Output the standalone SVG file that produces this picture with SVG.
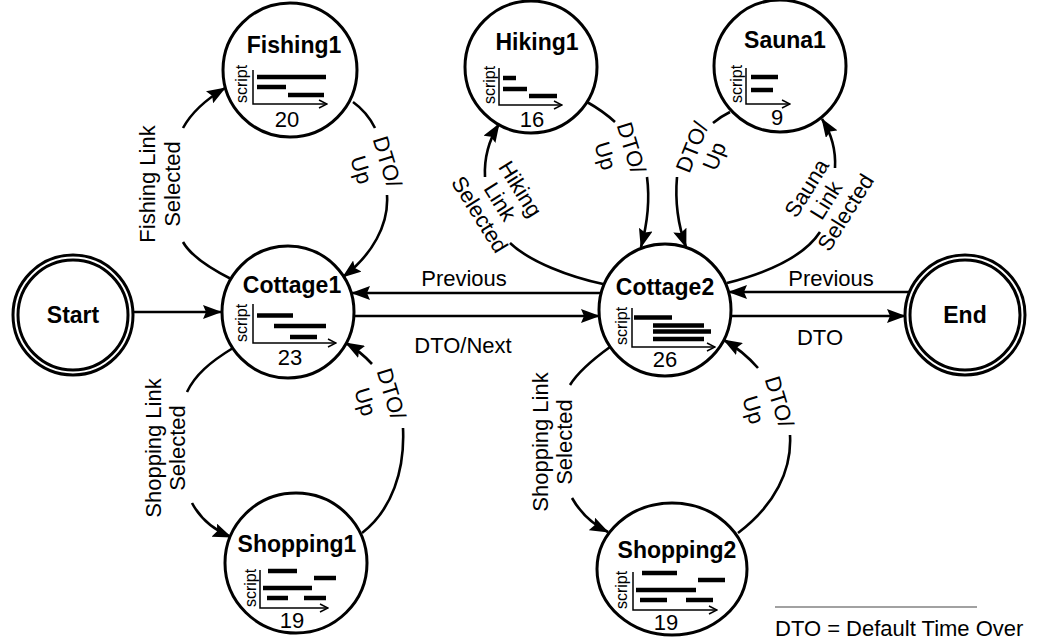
<svg xmlns="http://www.w3.org/2000/svg" width="1042" height="643" viewBox="0 0 1042 643">
<style>
.node{fill:#fff;stroke:#000;stroke-width:3}
.title{font-family:"Liberation Sans",Arial,sans-serif;font-weight:bold;font-size:23px;text-anchor:middle}
.num{font-family:"Liberation Sans",Arial,sans-serif;font-size:22px;text-anchor:middle}
.scr{font-family:"Liberation Sans",Arial,sans-serif;font-size:16px;text-anchor:middle}
.lbl{font-family:"Liberation Sans",Arial,sans-serif;font-size:22px;text-anchor:middle}
.edge{fill:none;stroke:#000;stroke-width:2.6}
.axis{fill:none;stroke:#000;stroke-width:1.5}
.bar{stroke:#000;stroke-width:4.5}
</style>
<defs>
<marker id="arr" markerUnits="userSpaceOnUse" markerWidth="19" markerHeight="14" viewBox="0 0 19 14" refX="18" refY="7" orient="auto">
<path d="M0,0 L19,7 L0,14 L3,7 z" fill="#000"/>
</marker>
<marker id="chev" markerUnits="userSpaceOnUse" markerWidth="10" markerHeight="10" viewBox="0 0 10 10" refX="9" refY="5" orient="auto">
<path d="M1,1 L9,5 L1,9" fill="none" stroke="#000" stroke-width="1.5"/>
</marker>
</defs>
<rect width="1042" height="643" fill="#fff"/>

<g id="connectors">
<path class="edge" marker-end="url(#arr)" d="M133 312 L221 312"/>
<path class="edge" marker-end="url(#arr)" d="M354 316 L599 316"/>
<path class="edge" marker-end="url(#arr)" d="M601 293 L352 293"/>
<path class="edge" marker-end="url(#arr)" d="M910 292 L729 292"/>
<path class="edge" marker-end="url(#arr)" d="M731 316 L905 316"/>
<!-- Fishing loop -->
<path class="edge" d="M233 280 Q193 260 183 242"/>
<path class="edge" marker-end="url(#arr)" d="M183 128 Q195 106 225 88"/>
<path class="edge" d="M353 102 Q367 112 375 128"/>
<path class="edge" marker-end="url(#arr)" d="M387 195 C389 225 372 255 343 277"/>
<!-- Hiking loop -->
<path class="edge" d="M603 284 C570 277 530 262 510 243"/>
<path class="edge" marker-end="url(#arr)" d="M485 177 C484 158 489 140 499 124"/>
<path class="edge" d="M587 102 Q603 111 615 122"/>
<path class="edge" marker-end="url(#arr)" d="M647 177 C650 200 647 225 641 247"/>
<!-- Sauna loop -->
<path class="edge" d="M730 112 Q720 117 713 123"/>
<path class="edge" marker-end="url(#arr)" d="M677 177 C675 200 678 225 686 247"/>
<path class="edge" d="M727 283 C770 272 805 255 820 232"/>
<path class="edge" marker-end="url(#arr)" d="M835 168 C836 150 831 133 822 119"/>
<!-- Shopping1 loop -->
<path class="edge" d="M233 348 C210 362 195 375 187 392"/>
<path class="edge" marker-end="url(#arr)" d="M192 503 C200 518 214 530 231 537"/>
<path class="edge" d="M362 533 C392 510 405 470 403 428"/>
<path class="edge" marker-end="url(#arr)" d="M372 364 Q360 351 346 343"/>
<!-- Shopping2 loop -->
<path class="edge" d="M610 347 C592 360 578 372 570 385"/>
<path class="edge" marker-end="url(#arr)" d="M572 498 C580 512 592 524 608 532"/>
<path class="edge" d="M738 533 C775 505 792 470 790 435"/>
<path class="edge" marker-end="url(#arr)" d="M758 368 Q743 351 724 340"/>

<text class="lbl" x="464" y="286">Previous</text>
<text class="lbl" x="463" y="353">DTO/Next</text>
<text class="lbl" x="831" y="286">Previous</text>
<text class="lbl" x="820" y="345">DTO</text>

<text class="lbl" transform="translate(155,184) rotate(-90)"><tspan x="0" y="0">Fishing Link</tspan><tspan x="0" y="25">Selected</tspan></text>
<text class="lbl" transform="translate(380,164) rotate(73)"><tspan x="0" y="0">DTO/</tspan><tspan x="0" y="27">Up</tspan></text>
<text class="lbl" transform="translate(514,193) rotate(58)"><tspan x="0" y="0">Hiking</tspan><tspan x="0" y="24">Link</tspan><tspan x="0" y="48">Selected</tspan></text>
<text class="lbl" transform="translate(624,150) rotate(73)"><tspan x="0" y="0">DTO/</tspan><tspan x="0" y="27">Up</tspan></text>
<text class="lbl" transform="translate(699,150) rotate(-68)"><tspan x="0" y="0">DTO/</tspan><tspan x="0" y="24">Up</tspan></text>
<text class="lbl" transform="translate(813,192) rotate(-58)"><tspan x="0" y="0">Sauna</tspan><tspan x="0" y="23">Link</tspan><tspan x="0" y="46">Selected</tspan></text>
<text class="lbl" transform="translate(161,448) rotate(-90)"><tspan x="0" y="0">Shopping Link</tspan><tspan x="0" y="24">Selected</tspan></text>
<text class="lbl" transform="translate(384,396) rotate(73)"><tspan x="0" y="0">DTO/</tspan><tspan x="0" y="27">Up</tspan></text>
<text class="lbl" transform="translate(548,442) rotate(-90)"><tspan x="0" y="0">Shopping Link</tspan><tspan x="0" y="24">Selected</tspan></text>
<text class="lbl" transform="translate(772,404) rotate(73)"><tspan x="0" y="0">DTO/</tspan><tspan x="0" y="27">Up</tspan></text>
</g>

<g id="start">
<circle cx="73" cy="315" r="60" class="node"/>
<circle cx="73" cy="315" r="55" class="node"/>
<text x="73" y="323" class="title">Start</text>
</g>

<g id="end">
<circle cx="965" cy="315" r="60" class="node"/>
<circle cx="965" cy="315" r="55" class="node"/>
<text x="965" y="323" class="title">End</text>
</g>

<g id="fishing1">
<circle cx="290" cy="70" r="67" class="node"/>
<text x="294" y="53" class="title">Fishing1</text>
<text transform="translate(247,84) rotate(-90)" class="scr">script</text>
<path class="axis" marker-end="url(#chev)" d="M253 70 V104 H327"/>
<line class="bar" x1="257" y1="77" x2="326" y2="77"/>
<line class="bar" x1="257" y1="87" x2="286" y2="87"/>
<line class="bar" x1="288" y1="95" x2="324" y2="95"/>
<text x="287" y="127" class="num">20</text>
</g>

<g id="hiking1">
<circle cx="531" cy="67" r="66" class="node"/>
<text x="537" y="50" class="title">Hiking1</text>
<text transform="translate(495,85) rotate(-90)" class="scr">script</text>
<path class="axis" marker-end="url(#chev)" d="M499 68 V105 H562"/>
<line class="bar" x1="503" y1="78" x2="516" y2="78"/>
<line class="bar" x1="503" y1="89" x2="527" y2="89"/>
<line class="bar" x1="529" y1="96" x2="557" y2="96"/>
<text x="532" y="127" class="num">16</text>
</g>

<g id="sauna1">
<circle cx="780" cy="66" r="66" class="node"/>
<text x="785" y="48" class="title">Sauna1</text>
<text transform="translate(742,84) rotate(-90)" class="scr">script</text>
<path class="axis" marker-end="url(#chev)" d="M746 68 V104 H790"/>
<line class="bar" x1="751" y1="77" x2="778" y2="77"/>
<line class="bar" x1="751" y1="90" x2="773" y2="90"/>
<text x="777" y="125" class="num">9</text>
</g>

<g id="cottage1">
<circle cx="288" cy="312" r="66" class="node"/>
<text x="292" y="293" class="title">Cottage1</text>
<text transform="translate(247,323) rotate(-90)" class="scr">script</text>
<path class="axis" marker-end="url(#chev)" d="M253 304 V343 H336"/>
<line class="bar" x1="257" y1="315.5" x2="293" y2="315.5"/>
<line class="bar" x1="274" y1="326" x2="326" y2="326"/>
<line class="bar" x1="290" y1="337" x2="317" y2="337"/>
<text x="290" y="365" class="num">23</text>
</g>

<g id="cottage2">
<circle cx="665" cy="310" r="66" class="node"/>
<text x="665" y="295" class="title">Cottage2</text>
<text transform="translate(627,326) rotate(-90)" class="scr">script</text>
<path class="axis" marker-end="url(#chev)" d="M632 308 V347 H715"/>
<line class="bar" x1="634" y1="317.5" x2="672" y2="317.5"/>
<line class="bar" x1="653" y1="325.5" x2="704" y2="325.5"/>
<line class="bar" x1="653" y1="331.5" x2="711" y2="331.5"/>
<line class="bar" x1="653" y1="339" x2="704" y2="339"/>
<text x="665" y="367" class="num">26</text>
</g>

<g id="shopping1">
<ellipse cx="296" cy="563" rx="71" ry="70" class="node"/>
<text x="297" y="552" class="title">Shopping1</text>
<text transform="translate(256,588) rotate(-90)" class="scr">script</text>
<path class="axis" marker-end="url(#chev)" d="M260 570 V608 H328"/>
<line class="bar" x1="268" y1="571" x2="297" y2="571"/>
<line class="bar" x1="314" y1="578" x2="336" y2="578"/>
<line class="bar" x1="263" y1="588" x2="312" y2="588"/>
<line class="bar" x1="267" y1="598" x2="288" y2="598"/>
<line class="bar" x1="304" y1="598" x2="326" y2="598"/>
<text x="292" y="628" class="num">19</text>
</g>

<g id="shopping2">
<ellipse cx="672" cy="569" rx="75" ry="66" class="node"/>
<text x="677" y="558" class="title">Shopping2</text>
<text transform="translate(627,590) rotate(-90)" class="scr">script</text>
<path class="axis" marker-end="url(#chev)" d="M633 572 V610 H717"/>
<line class="bar" x1="642" y1="573" x2="677" y2="573"/>
<line class="bar" x1="698" y1="580" x2="725" y2="580"/>
<line class="bar" x1="636" y1="590" x2="696" y2="590"/>
<line class="bar" x1="640" y1="600" x2="667" y2="600"/>
<line class="bar" x1="686" y1="600" x2="713" y2="600"/>
<text x="666" y="630" class="num">19</text>
</g>

<g id="legend">
<line x1="775" y1="607" x2="977" y2="607" stroke="#444" stroke-width="1.2"/>
<text x="775" y="636" class="lbl" style="text-anchor:start">DTO = Default Time Over</text>
</g>
</svg>
